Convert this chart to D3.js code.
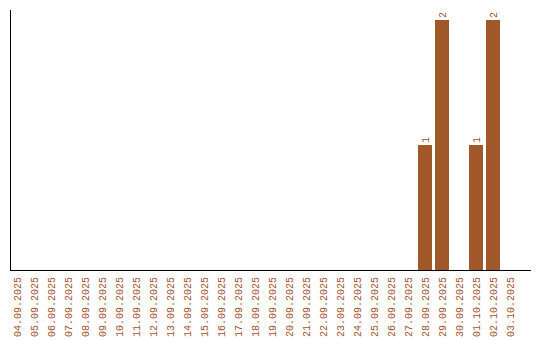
<!DOCTYPE html>
<html>
<head>
<meta charset="utf-8">
<script src="https://cdn.jsdelivr.net/npm/d3@7"></script>
<style>
  body { margin: 0; background: #fff; }
  text { font-family: "Liberation Mono", "Courier New", monospace; font-size: 10px; fill: #a0522d; }
</style>
</head>
<body>
<svg id="chart" width="540" height="340"></svg>
<script>
const dates = ["04.09.2025","05.09.2025","06.09.2025","07.09.2025","08.09.2025","09.09.2025",
  "10.09.2025","11.09.2025","12.09.2025","13.09.2025","14.09.2025","15.09.2025","16.09.2025",
  "17.09.2025","18.09.2025","19.09.2025","20.09.2025","21.09.2025","22.09.2025","23.09.2025",
  "24.09.2025","25.09.2025","26.09.2025","27.09.2025","28.09.2025","29.09.2025","30.09.2025",
  "01.10.2025","02.10.2025","03.10.2025"];
const counts = [0,0,0,0,0,0,0,0,0,0,0,0,0,0,0,0,0,0,0,0,0,0,0,0,1,2,0,1,2,0];

const svg = d3.select("#chart");
const pad = 3 / 17;

const x = d3.scaleBand()
  .domain(dates)
  .range([10, 520])
  .paddingInner(pad)
  .paddingOuter(pad / 2)
  .align(0);

const y = d3.scaleLinear()
  .domain([0, d3.max(counts) * 1.04])
  .range([270, 10]);

const rows = dates.map((d, i) => ({ d: d, v: counts[i] })).filter(o => o.v > 0);

svg.selectAll(".bar")
  .data(rows)
  .enter()
  .append("rect")
  .attr("x", o => x(o.d))
  .attr("y", o => y(o.v))
  .attr("width", x.bandwidth())
  .attr("height", o => y(0) - y(o.v))
  .attr("fill", "#a0572a");

// value labels
svg.selectAll(".val")
  .data(rows)
  .enter()
  .append("text")
  .attr("transform", o => "translate(" + (x(o.d) + x.bandwidth() / 2 + 3.5) + "," + (y(o.v) - 2) + ") rotate(-90)")
  .text(o => o.v);

// x labels
svg.selectAll(".xl")
  .data(dates)
  .enter()
  .append("text")
  .attr("text-anchor", "end")
  .attr("transform", d => "translate(" + (x(d) + x.bandwidth() / 2 + 3.5) + ",277) rotate(-90)")
  .text(d => d);

// axes lines
svg.append("line").attr("x1", 10.5).attr("x2", 10.5).attr("y1", 10).attr("y2", 270)
  .attr("stroke", "#000");
svg.append("line").attr("x1", 10).attr("x2", 531).attr("y1", 270.5).attr("y2", 270.5)
  .attr("stroke", "#000");
</script>
</body>
</html>
